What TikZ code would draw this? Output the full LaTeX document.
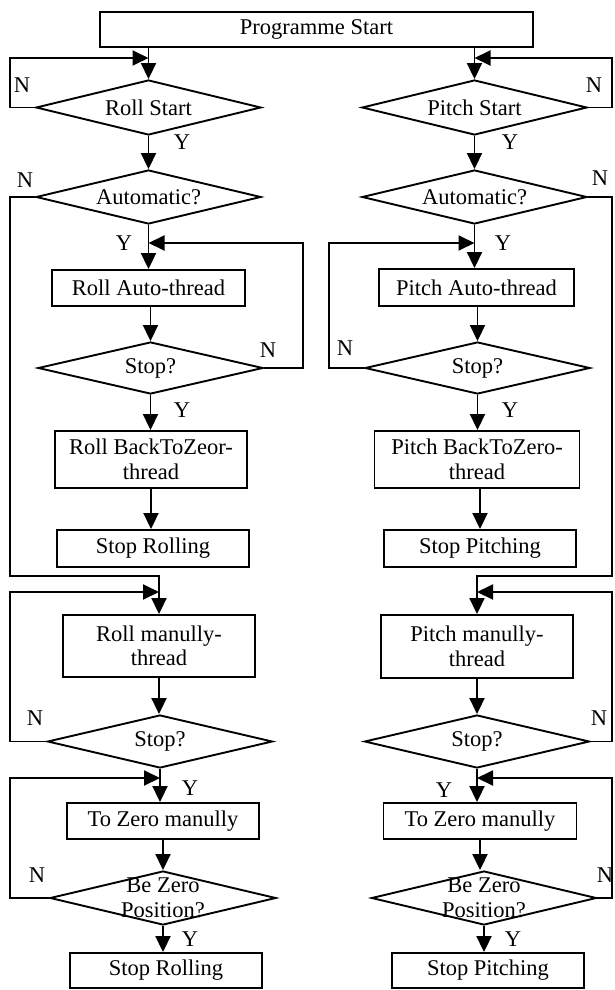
\documentclass[tikz,border=0pt]{standalone}
\usepackage{fontspec}
\setmainfont{Liberation Serif}
\usetikzlibrary{shapes.geometric,arrows.meta,calc}
\begin{document}
\begin{tikzpicture}[x=1pt,y=-1pt,
 every node/.style={font=\fontsize{22.5}{24.5}\selectfont},
 ln/.style={line width=1.9pt},
 arr/.style={ln,-{Triangle[length=16pt,width=15pt]}},
 box/.style={draw,ln,rectangle,inner sep=0pt,align=center,minimum width=192pt,minimum height=36pt},
 dec/.style={draw,ln,diamond,inner sep=0pt,minimum width=225pt,minimum height=54pt},
 txt/.style={inner sep=0pt,align=center},
 lab/.style={inner sep=0pt}]
\useasboundingbox (0,0) rectangle (614,990);
% helper coordinates
\coordinate (lx) at (10,0);
\coordinate (rx) at (612,0);
\coordinate (x303) at (303,0);
\coordinate (x329) at (329,0);
\coordinate (y58) at (0,58);
\coordinate (y243) at (0,243);
\coordinate (y576) at (0,576);
\coordinate (y592) at (0,592);
\coordinate (y778) at (0,778);
% top
\node[box,minimum width=433pt,minimum height=35pt] (ps) at (316.5,29.5) {Programme Start};
% left column
\node[dec,minimum height=55pt] (rs) at (148.5,107.5) {};
\node[txt] (rst) at (rs) {Roll Start};
\node[dec] (ra) at (148.5,197) {};
\node[txt] (rat0) at (ra) {Automatic?};
\node[box,minimum width=193pt] (rat) at (148.5,288) {Roll Auto-thread};
\node[dec,minimum height=52pt] (rstop1) at (150.5,368) {};
\node[txt] (rstop1t) at (rstop1) {Stop?};
\node[box,minimum height=57pt] (rbz) at (151,459.5) {Roll BackToZeor-\\thread};
\node[box,minimum height=37pt] (rsr) at (153,548.5) {Stop Rolling};
\node[box,minimum height=62pt] (rmt) at (159,646) {Roll manully-\\thread};
\node[dec,minimum height=53pt] (rstop2) at (160,741.5) {};
\node[txt] (rstop2t) at (rstop2) {Stop?};
\node[box] (rtz) at (163,821) {To Zero manully};
\node[dec,minimum width=226pt] (rbe) at (163,898) {};
\node[txt] (rbet) at (rbe) {Be Zero\\Position?};
\node[box,minimum height=35pt] (rsr2) at (166,970.5) {Stop Rolling};
% right column
\node[dec,minimum height=55pt] (pst) at (474.5,107.5) {};
\node[txt] (pstt) at (pst) {Pitch Start};
\node[dec] (pa) at (474.5,197) {};
\node[txt] (pat0) at (pa) {Automatic?};
\node[box,minimum width=195pt,minimum height=37pt] (pat) at (476.5,287.5) {Pitch Auto-thread};
\node[dec,minimum height=52pt] (pstop1) at (477.5,368) {};
\node[txt] (pstop1t) at (pstop1) {Stop?};
\node[box,minimum width=205pt,minimum height=57pt] (pbz) at (477,459.5) {Pitch BackToZero-\\thread};
\node[box,minimum height=37pt] (psp) at (480,548.5) {Stop Pitching};
\node[box,minimum height=63pt] (pmt) at (477,646.5) {Pitch manully-\\thread};
\node[dec,minimum height=53pt] (pstop2) at (477,741.5) {};
\node[txt] (pstop2t) at (pstop2) {Stop?};
\node[box,minimum width=193pt] (ptz) at (480,821) {To Zero manully};
\node[dec] (pbe) at (484,898) {};
\node[txt] (pbet) at (pbe) {Be Zero\\Position?};
\node[box,minimum height=35pt] (psp2) at (488,970.5) {Stop Pitching};
% main arrows left
\draw[arr] (ps.south -| rs.north) -- (rs.north);
\draw[arr] (rs.south) -- (ra.north);
\draw[arr] (ra.south) -- (ra.south |- rat.north);
\draw[arr] (rat.south -| rstop1.north) -- (rstop1.north);
\draw[arr] (rstop1.south) -- (rstop1.south |- rbz.north);
\draw[arr] (rbz.south) -- (rbz.south |- rsr.north);
\draw[arr] (rmt.south) -- (rmt.south |- rstop2.north);
\draw[arr] (rstop2.south) -- (rstop2.south |- rtz.north);
\draw[arr] (rtz.south) -- (rtz.south |- rbe.north);
\draw[arr] (rbe.south) -- (rbe.south |- rsr2.north);
% main arrows right
\draw[arr] (ps.south -| pst.north) -- (pst.north);
\draw[arr] (pst.south) -- (pa.north);
\draw[arr] (pa.south) -- (pa.south |- pat.north);
\draw[arr] (pat.south -| pstop1.north) -- (pstop1.north);
\draw[arr] (pstop1.south) -- (pstop1.south |- pbz.north);
\draw[arr] (pbz.south -| psp.north) -- (psp.north);
\draw[arr] (pmt.south) -- (pmt.south |- pstop2.north);
\draw[arr] (pstop2.south) -- (pstop2.south |- ptz.north);
\draw[arr] (ptz.south) -- (ptz.south |- pbe.north);
\draw[arr] (pbe.south) -- (pbe.south |- psp2.north);
% loops left
\draw[arr] (rs.west) -- (rs.west -| lx) |- (rs.north |- y58);
\draw[arr] (ra.west) -- (ra.west -| lx) |- (rmt.north |- y576) -- (rmt.north);
\draw[arr] (rstop1.east) -- (rstop1.east -| x303) |- (ra.south |- y243);
\draw[arr] (rstop2.west) -- (rstop2.west -| lx) |- (rmt.north |- y592);
\draw[arr] (rbe.west) -- (rbe.west -| lx) |- (rstop2.south |- y778);
% loops right
\draw[arr] (pst.east) -- (pst.east -| rx) |- (pst.north |- y58);
\draw[arr] (pa.east) -- (pa.east -| rx) |- (pmt.north |- y576) -- (pmt.north);
\draw[arr] (pstop1.west) -- (pstop1.west -| x329) |- (pa.south |- y243);
\draw[arr] (pstop2.east) -- (pstop2.east -| rx) |- (pmt.north |- y592);
\draw[arr] (pbe.east) -- (pbe.east -| rx) |- (pstop2.south |- y778);
% labels left
\node[lab] (n1) at (22,85) {N};
\node[lab] (y1) at (182,142) {Y};
\node[lab] (n2) at (25,180) {N};
\node[lab] (y2) at (124,243) {Y};
\node[lab] (n3) at (268,350) {N};
\node[lab] (y3) at (182,410) {Y};
\node[lab] (n4) at (35,718) {N};
\node[lab] (y4) at (190,788) {Y};
\node[lab] (n5) at (37,875) {N};
\node[lab] (y5) at (190,939) {Y};
% labels right
\node[lab] (n6) at (594,85) {N};
\node[lab] (y6) at (510,142) {Y};
\node[lab] (n7) at (600,178) {N};
\node[lab] (y7) at (503,243) {Y};
\node[lab] (n8) at (345,348) {N};
\node[lab] (y8) at (510,410) {Y};
\node[lab] (n9) at (599,718) {N};
\node[lab] (y9) at (444,790) {Y};
\node[lab] (n10) at (605,875) {N};
\node[lab] (y10) at (513,939) {Y};
\end{tikzpicture}
\end{document}
